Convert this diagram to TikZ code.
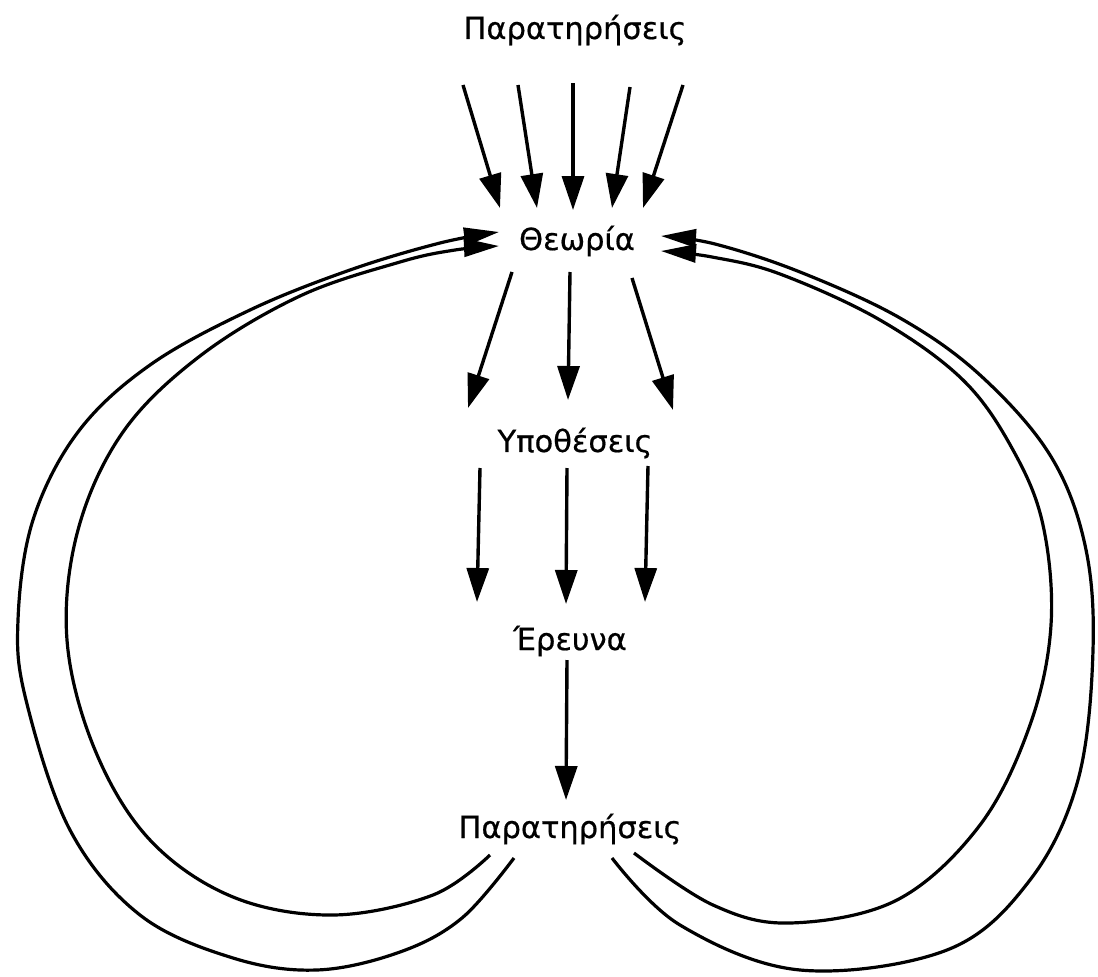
\documentclass[tikz,border=0pt]{standalone}
\usepackage{fontspec}
\setmainfont[FakeBold=0.6]{DejaVu Sans}
\usetikzlibrary{arrows.meta}
\begin{document}
\begin{tikzpicture}[x=1pt,y=-1pt,
  lbl/.style={inner sep=0pt,font=\fontsize{30.5}{36}\selectfont},
  arr/.style={line width=3.4pt,-{Triangle[length=34pt,width=22pt]}},
  loop/.style={line width=3.2pt,-{Triangle[length=35pt,width=18pt]}}]
\useasboundingbox (0,0) rectangle (1098,977);
\node[lbl] (obsTop) at (575,30) {Παρατηρήσεις};
\node[lbl] (theory) at (577,241) {Θεωρία};
\node[lbl] (hyp) at (575,443) {Υποθέσεις};
\node[lbl] (res) at (570,641) {Έρευνα};
\node[lbl] (obsBot) at (570,829) {Παρατηρήσεις};
% top arrows
\coordinate (t1) at (463,85); \coordinate (e1) at (500,208);
\coordinate (t2) at (518,85); \coordinate (e2) at (537,208);
\coordinate (t3) at (573,83); \coordinate (e3) at (573,210);
\coordinate (t4) at (630,87); \coordinate (e4) at (612,208);
\coordinate (t5) at (683,85); \coordinate (e5) at (643,208);
\foreach \i in {1,...,5} \draw[arr] (t\i) -- (e\i);
% theory -> hypotheses
\coordinate (h1s) at (512,272); \coordinate (h1e) at (468,408);
\coordinate (h2s) at (570,272); \coordinate (h2e) at (568,400);
\coordinate (h3s) at (632,278); \coordinate (h3e) at (673,410);
\foreach \i in {1,2,3} \draw[arr] (h\i s) -- (h\i e);
% hypotheses -> research
\coordinate (r1s) at (480,468); \coordinate (r1e) at (477,602);
\coordinate (r2s) at (567,468); \coordinate (r2e) at (566,604);
\coordinate (r3s) at (648,466); \coordinate (r3e) at (645,602);
\foreach \i in {1,2,3} \draw[arr] (r\i s) -- (r\i e);
% research -> observations
\coordinate (o1s) at (567,660); \coordinate (o1e) at (566,800);
\draw[arr] (o1s) -- (o1e);
% loops
\coordinate (lOs) at (514,858); \coordinate (lOe) at (499,232);
\coordinate (lIs) at (490,855); \coordinate (lIe) at (499,246);
\coordinate (rOs) at (612,858); \coordinate (rOe) at (661,236);
\coordinate (rIs) at (634,853); \coordinate (rIe) at (661,251);
\draw[loop] plot[smooth,tension=0.6] coordinates {(lOs) (462,918) (400,952) (317,970) (233,958) (140,915) (70,830) (26,700) (18,620) (33,520) (78,432) (150,365) (250,310) (350,270) (440,243) (lOe)};
\draw[loop] plot[smooth,tension=0.6] coordinates {(lIs) (433,895) (333,915) (233,897) (150,840) (95,750) (67,640) (78,530) (123,432) (200,356) (300,296) (400,262) (455,250) (lIe)};
\draw[loop] plot[smooth,tension=0.6] coordinates {(rOs) (680,925) (800,970) (947,950) (1030,880) (1078,780) (1093,650) (1085,545) (1050,455) (980,375) (900,318) (800,272) (715,244) (rOe)};
\draw[loop] plot[smooth,tension=0.6] coordinates {(rIs) (713,905) (790,923) (897,900) (980,825) (1030,725) (1051,625) (1043,525) (1013,450) (963,380) (880,320) (780,274) (712,257) (rIe)};
\end{tikzpicture}
\end{document}
